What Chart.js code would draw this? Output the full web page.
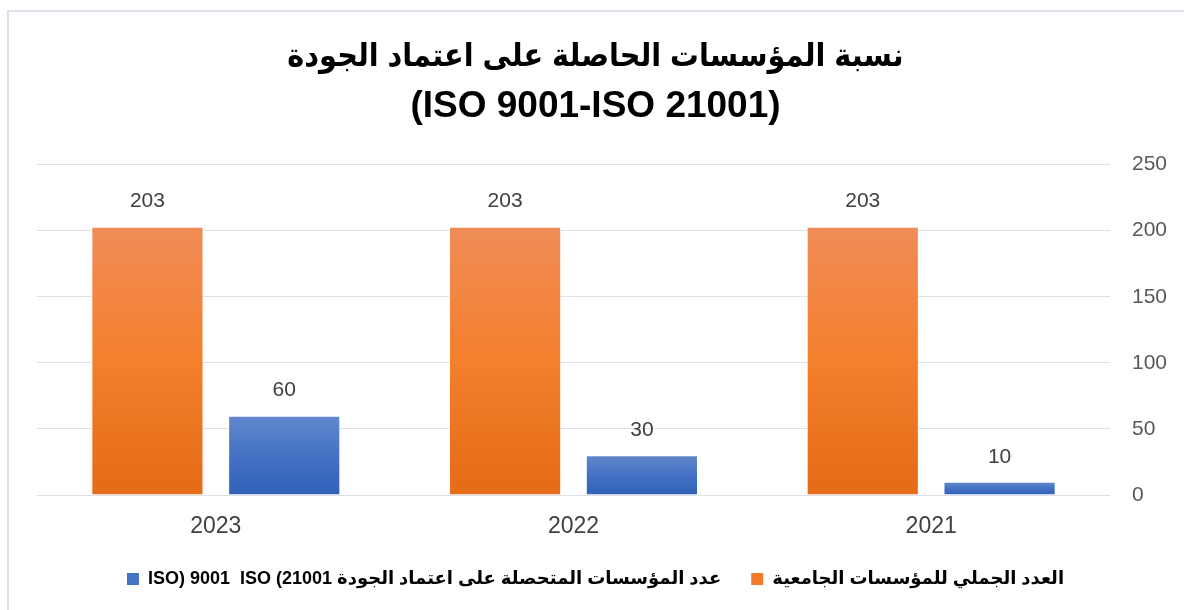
<!DOCTYPE html>
<html lang="ar">
<head>
<meta charset="utf-8">
<title>نسبة المؤسسات الحاصلة على اعتماد الجودة</title>
<script src="https://cdn.jsdelivr.net/npm/chart.js@4.4.1/dist/chart.umd.min.js"></script>
<style>
  html, body { margin: 0; padding: 0; background: #fff; overflow: hidden; }
  .frame {
    position: absolute; left: 7px; top: 10px; width: 1200px; height: 620px;
    border: 2px solid #dde3ec; box-sizing: border-box;
  }
  .wrap { position: absolute; left: 0; top: 0; width: 1184px; height: 610px; }
</style>
</head>
<body>
<div class="frame"></div>
<div class="wrap"><canvas id="chart" width="1184" height="610"></canvas></div>
<script>
// chart data
const years = ["2021", "2022", "2023"];
const totalInstitutions = [203, 203, 203];
const certifiedInstitutions = [10, 30, 60];
const yTicks = [0, 50, 100, 150, 200, 250];

const titleText = "نسبة المؤسسات الحاصلة على اعتماد الجودة";
const subtitleText = "(ISO 9001-ISO 21001)";
const totalLabel = "العدد الجملي للمؤسسات الجامعية";
const certifiedLabel = "ISO) 9001  ISO (21001 عدد المؤسسات المتحصلة على اعتماد الجودة";

const FONT = "'Liberation Sans', 'DejaVu Sans', sans-serif";
const TITLE_FONT = "'Liberation Sans', 'DejaVu Sans Condensed', 'DejaVu Sans', sans-serif";

// vertical gradient for each bar, lighter at the top
function barGradient(top, mid, bottom) {
  return (context) => {
    const chart = context.chart;
    const y = chart.scales.y;
    if (!y || context.raw == null) return mid;
    const y0 = y.getPixelForValue(context.raw);
    const y1 = y.getPixelForValue(0);
    if (!isFinite(y0) || !isFinite(y1) || y0 === y1) return mid;
    const g = chart.ctx.createLinearGradient(0, y0, 0, y1);
    g.addColorStop(0, top);
    g.addColorStop(0.5, mid);
    g.addColorStop(1, bottom);
    return g;
  };
}

// value labels above the bars
const valueLabels = {
  id: "valueLabels",
  afterDatasetsDraw(chart) {
    const ctx = chart.ctx;
    ctx.save();
    ctx.font = "21px " + FONT;
    ctx.fillStyle = "#404040";
    ctx.textAlign = "center";
    ctx.textBaseline = "middle";
    chart.data.datasets.forEach((ds, i) => {
      chart.getDatasetMeta(i).data.forEach((bar, j) => {
        ctx.fillText(String(ds.data[j]), bar.x, bar.y - 25);
      });
    });
    ctx.restore();
  }
};

new Chart(document.getElementById("chart"), {
  type: "bar",
  data: {
    labels: years,
    datasets: [
      {
        label: totalLabel,
        data: totalInstitutions,
        backgroundColor: barGradient("#f08c58", "#f47f2c", "#e46b18"),
        borderColor: "rgba(255,255,255,0.7)",
        borderWidth: 1,
        categoryPercentage: 0.765,
        barPercentage: 0.82
      },
      {
        label: certifiedLabel,
        data: certifiedInstitutions,
        backgroundColor: barGradient("#6288cd", "#4472c4", "#2f61b7"),
        borderColor: "rgba(255,255,255,0.7)",
        borderWidth: 1,
        categoryPercentage: 0.765,
        barPercentage: 0.82
      }
    ]
  },
  options: {
    responsive: false,
    animation: false,
    layout: { padding: { left: 7, right: 0, top: 30, bottom: 12 } },
    plugins: {
      title: {
        display: true,
        text: titleText,
        color: "#000",
        font: { family: TITLE_FONT, size: 32, weight: "bold", lineHeight: 1.7 },
        padding: 0
      },
      subtitle: {
        display: true,
        text: subtitleText,
        color: "#000",
        font: { family: TITLE_FONT, size: 37, weight: "bold", lineHeight: 1.22 },
        padding: { top: 0, bottom: 35 }
      },
      legend: {
        position: "bottom",
        reverse: true,
        labels: {
          color: "#000",
          font: { family: FONT, size: 18, weight: "bold" },
          boxWidth: 12,
          boxHeight: 12,
          padding: 30,
          generateLabels(chart) {
            return chart.data.datasets.map((ds, i) => ({
              text: ds.label,
              fillStyle: i === 0 ? "#f07c2a" : "#4472c4",
              strokeStyle: "transparent",
              lineWidth: 0,
              datasetIndex: i,
              hidden: false
            }));
          }
        }
      },
      tooltip: { enabled: false }
    },
    scales: {
      x: {
        reverse: true,
        grid: { display: false, drawTicks: false },
        border: { display: false },
        ticks: { color: "#404040", font: { family: FONT, size: 23 }, padding: 18 },
        afterFit(scale) { scale.height = 45; }
      },
      y: {
        position: "right",
        min: 0,
        max: 250,
        afterBuildTicks(scale) { scale.ticks = yTicks.map(v => ({ value: v })); },
        afterFit(scale) { scale.width = 74; },
        grid: { color: "#dde1e7", lineWidth: 1, drawTicks: false },
        border: { display: false },
        ticks: { color: "#595959", font: { family: FONT, size: 21 }, padding: 22 }
      },
      // empty left margin so the plot starts at the same place as the reference
      leftMargin: {
        type: "linear",
        position: "left",
        grid: { display: false, drawTicks: false },
        border: { display: false },
        ticks: { display: false },
        afterFit(scale) { scale.width = 30; }
      }
    }
  },
  plugins: [valueLabels]
});
</script>
</body>
</html>
